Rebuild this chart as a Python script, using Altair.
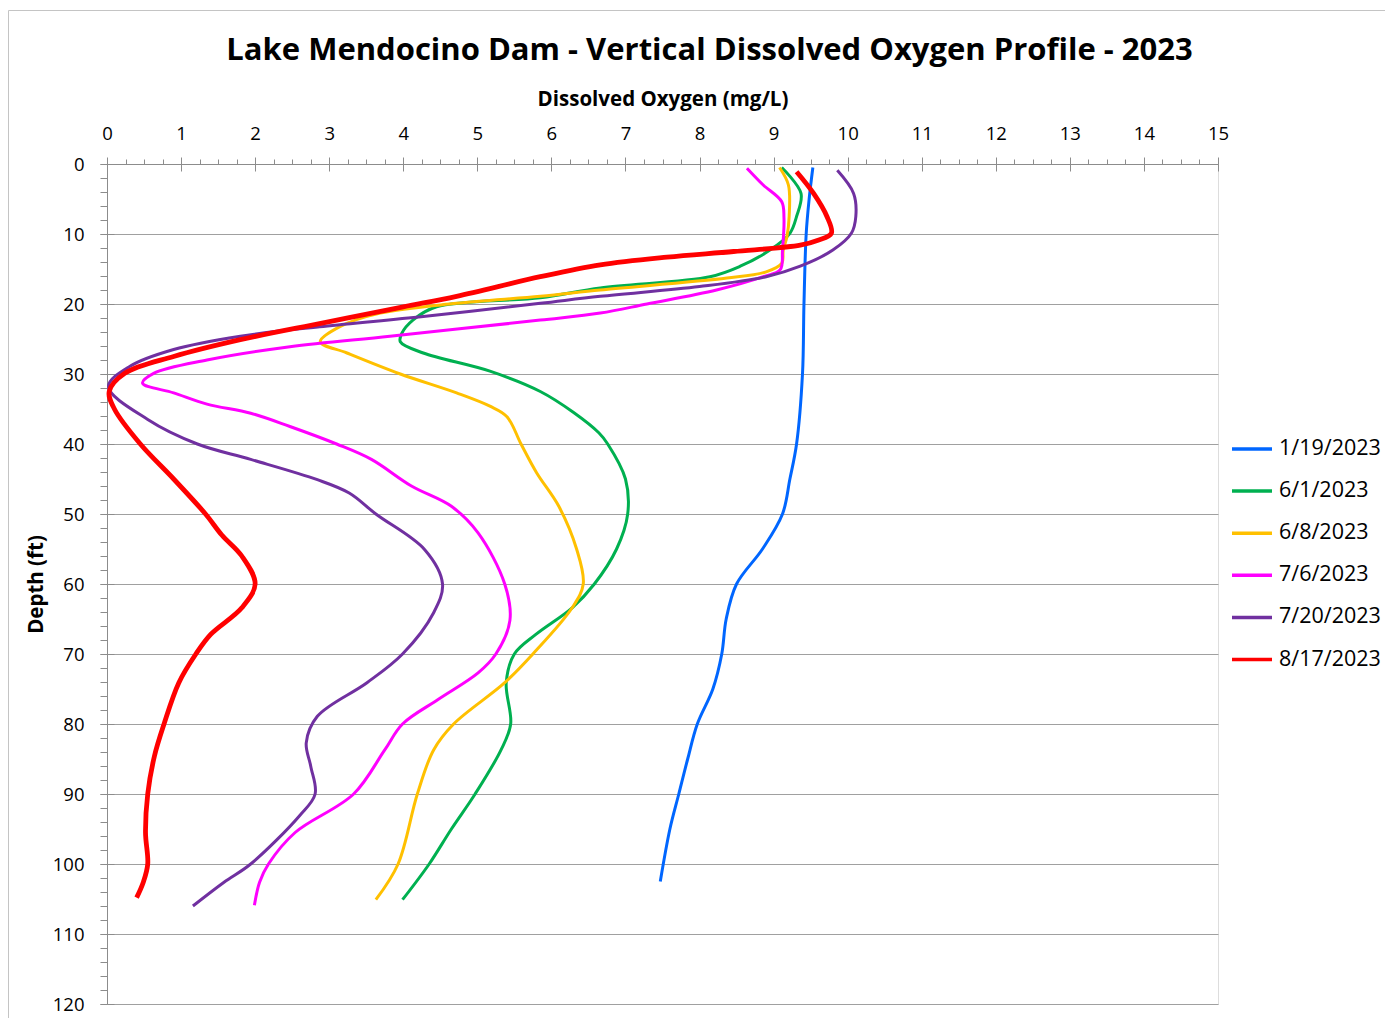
import altair as alt
import pandas as pd

series_names = ["1/19/2023", "6/1/2023", "6/8/2023", "7/6/2023", "7/20/2023", "8/17/2023"]
series_colors = ["#0066FF", "#00B050", "#FFC000", "#FF00FF", "#7030A0", "#FF0000"]

jan19_depth = [0.5, 5, 10, 20, 30, 40, 45, 50, 55, 60, 65, 70, 75, 80, 85, 90, 95, 102.5]
jan19_do = [9.53, 9.48, 9.44, 9.41, 9.39, 9.31, 9.22, 9.12, 8.85, 8.5, 8.36, 8.3, 8.18, 7.97, 7.84, 7.72, 7.6, 7.47]

jun1_depth = [0.5, 4.2, 7.5, 9.9, 12.3, 14.6, 16.1, 17.7, 19.1, 20.4, 22.3, 24.2, 25.4, 27, 29.6, 32.5,
              35.5, 38.4, 40, 45, 50, 55, 60, 63.4, 67.2, 70, 74.1, 80, 83.7, 90, 95, 100, 105.1]
jun1_do = [9.11, 9.37, 9.31, 9.22, 8.95, 8.55, 8.14, 6.66, 5.85, 4.45, 4.13, 3.98, 3.96, 4.27, 5.17, 5.85,
           6.3, 6.64, 6.76, 7.0, 7.03, 6.88, 6.58, 6.28, 5.79, 5.5, 5.39, 5.45, 5.32, 4.97, 4.65, 4.35, 3.99]

jun8_depth = [0.5, 3, 7.5, 10.4, 12.3, 14.2, 15.4, 16.3, 18, 18.9, 19.9, 21.3, 23.2, 25.4, 27, 30, 32.7,
              34.6, 36.1, 40, 44.1, 48.9, 55, 60, 63.4, 70, 74.1, 80, 83.7, 90, 100, 105.1]
jun8_do = [9.08, 9.2, 9.21, 9.18, 9.13, 9.11, 8.9, 8.37, 6.66, 5.85, 4.72, 3.69, 3.15, 2.88, 3.24, 3.96, 4.72,
           5.17, 5.4, 5.59, 5.8, 6.1, 6.34, 6.43, 6.28, 5.75, 5.37, 4.68, 4.41, 4.19, 3.93, 3.63]

jul6_depth = [0.6, 3, 5.4, 7.7, 12.3, 15.1, 16.1, 18, 20, 21.3, 22.3, 24.6, 26.1, 28, 29.9, 31.3, 32.7,
              34.3, 35.6, 37.5, 40, 42.2, 46, 48.9, 52.7, 60, 65.2, 70, 72.7, 76.5, 80, 83.7, 90, 95.5,
              100, 102.6, 105.9]
jul6_do = [8.64, 8.86, 9.11, 9.14, 9.12, 9.09, 8.86, 8.23, 7.29, 6.66, 5.85, 3.82, 2.47, 1.35, 0.63, 0.48, 0.9,
           1.35, 1.94, 2.47, 3.1, 3.57, 4.11, 4.65, 5.01, 5.37, 5.44, 5.25, 5.01, 4.47, 3.99, 3.75, 3.33, 2.54,
           2.18, 2.06, 1.99]

jul20_depth = [0.9, 4.2, 7.5, 9.9, 12.3, 14.6, 16.1, 17.5, 18.9, 19.9, 21.8, 23.2, 24.6, 26.5, 28.9, 31.8,
               36.5, 40, 42.2, 45.1, 47, 50, 55.1, 60, 64.1, 70, 74.1, 78.9, 82.7, 86, 90, 93.1,
               100, 102.6, 106]
jul20_do = [9.86, 10.08, 10.11, 10.05, 9.8, 9.36, 8.9, 8.0, 6.66, 5.85, 4.27, 2.92, 1.8, 0.9, 0.31, 0.02,
            0.55, 1.22, 1.94, 2.84, 3.27, 3.63, 4.29, 4.53, 4.41, 3.99, 3.51, 2.84, 2.69, 2.75, 2.81, 2.6,
            1.94, 1.58, 1.16]

aug17_depth = [1.1, 4.2, 7.5, 9.9, 10.9, 11.6, 12.5, 13.3, 14.4, 16.1, 18.9, 20.4, 22.7, 25.1, 27.5, 29.9,
               32.5, 35, 40, 45, 50, 53, 56, 60, 63.4, 67.2, 70, 74.1, 80, 84.6, 90,
               95.5, 100, 102.6, 104.8]
aug17_do = [9.31, 9.54, 9.72, 9.78, 9.6, 9.36, 8.46, 7.56, 6.66, 5.85, 4.72, 4.0, 2.92, 1.8, 0.9, 0.24,
            0.03, 0.1, 0.45, 0.9, 1.33, 1.55, 1.82, 2.0, 1.82, 1.4, 1.2, 0.97, 0.77, 0.64, 0.55,
            0.52, 0.55, 0.49, 0.4]

x_major = list(range(0, 16))
x_minor = [i * 0.25 for i in range(61)]
y_major = list(range(0, 121, 10))
y_minor = list(range(0, 121, 2))

rows = []
for name, dep, val in [
    ("1/19/2023", jan19_depth, jan19_do),
    ("6/1/2023", jun1_depth, jun1_do),
    ("6/8/2023", jun8_depth, jun8_do),
    ("7/6/2023", jul6_depth, jul6_do),
    ("7/20/2023", jul20_depth, jul20_do),
    ("8/17/2023", aug17_depth, aug17_do),
]:
    for d, v in zip(dep, val):
        rows.append({"series": name, "depth": d, "do": v})
df = pd.DataFrame(rows)

FONT = "Open Sans"
GRAY = "#8c8c8c"

xscale = alt.Scale(domain=[0, 15], nice=False, zero=False)
yscale = alt.Scale(domain=[0, 120], nice=False, zero=False, reverse=True)

lines = alt.Chart(df).mark_line(interpolate="catmull-rom").encode(
    x=alt.X("do:Q", scale=xscale, axis=alt.Axis(
        orient="top", values=x_major, title="Dissolved Oxygen (mg/L)", grid=False,
        tickSize=7, tickColor=GRAY, domainColor=GRAY, tickWidth=1, domainWidth=1,
        labelFont=FONT, labelFontSize=18.5, labelColor="black", labelPadding=14, labelFlush=False,
        titleFont=FONT, titleFontSize=20.5, titleFontWeight="bold", titleColor="black", titlePadding=15)),
    y=alt.Y("depth:Q", scale=yscale, axis=alt.Axis(
        orient="left", values=y_major, title="Depth (ft)", grid=True, gridColor="#a0a0a0", gridWidth=1.2,
        tickSize=7, tickColor=GRAY, domainColor=GRAY, tickWidth=1, domainWidth=1,
        labelFont=FONT, labelFontSize=18.5, labelColor="black", labelPadding=16, labelFlush=False,
        titleFont=FONT, titleFontSize=20.5, titleFontWeight="bold", titleColor="black", titlePadding=6)),
    color=alt.Color("series:N", scale=alt.Scale(domain=series_names, range=series_colors),
                    sort=series_names, title=None,
                    legend=alt.Legend(orient="none", legendX=1123, legendY=263, symbolType="stroke",
                                      symbolSize=1600, symbolStrokeWidth=3.5, labelFont=FONT,
                                      labelFontSize=21.5, labelColor="black", labelOffset=5, rowPadding=9.1,
                                      padding=0)),
    order=alt.Order("depth:Q"),
    strokeWidth=alt.condition(alt.datum.series == "8/17/2023", alt.value(4.8), alt.value(3)),
)

minor = alt.Chart(df).mark_line(opacity=0).encode(
    x=alt.X("do:Q", scale=xscale, axis=alt.Axis(
        orient="top", values=x_minor, title=None, grid=False, labels=False, domain=False,
        tickSize=5, tickColor=GRAY, tickWidth=1)),
    y=alt.Y("depth:Q", scale=yscale, axis=alt.Axis(
        orient="left", values=y_minor, title=None, grid=False, labels=False, domain=False,
        tickSize=7, tickColor=GRAY, tickWidth=1)),
    detail="series:N",
    order=alt.Order("depth:Q"),
)

inner = alt.Chart(df).mark_line(opacity=0).encode(
    x=alt.X("do:Q", scale=xscale, axis=alt.Axis(
        orient="top", values=x_major, title=None, grid=False, labels=False, domain=False,
        tickSize=7, tickColor=GRAY, tickWidth=1, offset=-7)),
    y=alt.Y("depth:Q", scale=yscale, axis=alt.Axis(
        orient="left", values=y_major, title=None, grid=False, labels=False, domain=False,
        tickSize=7, tickColor=GRAY, tickWidth=1, offset=-7)),
    detail="series:N",
    order=alt.Order("depth:Q"),
)

frame = alt.Chart(pd.DataFrame({"f": [0]})).mark_rect(
    filled=False, stroke="#c4c4c4", strokeWidth=1).encode(
    x=alt.value(-98.5), x2=alt.value(1400), y=alt.value(-153.5), y2=alt.value(1000))

chart = alt.layer(frame, minor, inner, lines).resolve_axis(
    x="independent", y="independent"
).properties(
    width=1111, height=840,
    title=alt.TitleParams("Lake Mendocino Dam - Vertical Dissolved Oxygen Profile - 2023",
                          font=FONT, fontSize=31, fontWeight="bold", color="black",
                          anchor="middle", dx=47, offset=-57),
    autosize=alt.AutoSizeParams(type="none"),
    padding={"left": 99, "top": 156, "right": 167, "bottom": 14},
).configure_view(stroke="#999999", strokeWidth=1.2).configure(background="white")

chart.save("out.html", embed_options={"renderer": "svg", "actions": False})
